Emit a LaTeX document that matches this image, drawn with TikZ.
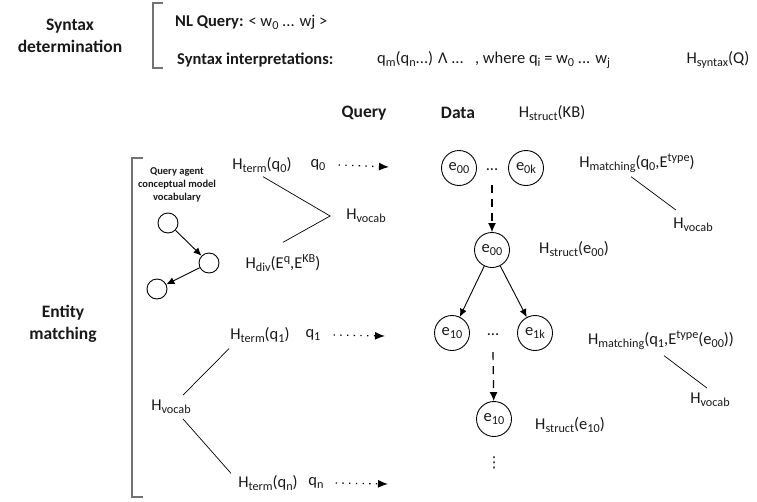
\documentclass[tikz,border=0pt]{standalone}
\usepackage{fontspec}
\setmainfont{Carlito}
\newfontfamily\symfont{DejaVu Sans}
\usepackage{graphicx}
\usetikzlibrary{arrows.meta}
\newcommand\lo[1]{\raisebox{-0.35ex}{\scalebox{0.74}{#1}}}
\newcommand\hi[1]{\raisebox{0.8ex}{\scalebox{0.74}{#1}}}

\begin{document}
\begin{tikzpicture}[x=1pt,y=-1pt,
	every node/.style={inner sep=0pt,text=black!90,font=\fontsize{16.5}{20}\selectfont},
	head/.style={align=center,font=\bfseries\fontsize{17.5}{22}\selectfont},
	small/.style={align=center,font=\bfseries\fontsize{10.5}{13}\selectfont},
	ent/.style={draw,circle,minimum size=35pt,line width=0.9pt},
	voc/.style={draw,circle,minimum size=20pt,line width=0.9pt},
	bracket/.style={black!55,line width=1.4pt},
	arr/.style={-{Latex[length=8pt,width=7pt]},line width=0.9pt},
	dotarr/.style={-{Latex[length=10pt,width=8pt]},line width=1.3pt,dash pattern=on 1.3pt off 5.4pt},
	dasharr/.style={-{Latex[length=9pt,width=8pt]},line width=1.2pt,dash pattern=on 8pt off 6pt},
	link/.style={line width=0.7pt}]
		%%%%% START %%%%%
		\useasboundingbox (0,0) rectangle (757,501);
		
		% syntax determination
		\node[head] (syntax) at (70,36) {Syntax\\determination};
		\draw[bracket] (163,3) -- (153,3) -- (153,68) -- (163,68);
		\node[anchor=west] (nlq) at (175,22) {\textbf{NL Query:} < w\lo{0} ... wj >};
		\node[anchor=west] (interp) at (177,60) {\textbf{Syntax interpretations:}};
		\node[anchor=west] (formula) at (377,60) {q\lo{m}(q\lo{n}...) Λ ...\ \ \ , where q\lo{i} = w\lo{0} ... w\lo{j}};
		\node (hsyntax) at (718,60) {H\lo{syntax}(Q)};
		
		% column heads
		\node[head] (query) at (364,113) {Query};
		\node[head] (data) at (458,113) {Data};
		\node (hkb) at (552,113) {H\lo{struct}(KB)};
		
		% entity matching
		\node[head] (entity) at (63,324) {Entity\\matching};
		\draw[bracket] (143,158) -- (132,158) -- (132,497) -- (143,497);
		
		\node[small] (agent) at (177,185) {Query agent\\conceptual model\\vocabulary};
		\node[voc] (c1) at (168,223) {};
		\node[voc] (c2) at (209,263) {};
		\node[voc] (c3) at (157,289) {};
		\draw[arr] (c1) -- (c2);
		\draw[arr] (c2) -- (c3);
		
		% query terms
		\node (hterm0) at (262,165) {H\lo{term}(q\lo{0})};
		\node (q0) at (318,165) {q\lo{0}};
		\coordinate (t0) at (389,167);
		\draw[dotarr] ([xshift=13pt]q0.east) -- (t0);
		\node (hvocab0) at (366,216) {H\lo{vocab}};
		\node (hdiv) at (283,263) {H\lo{div}(E\hi{q},E\hi{KB})};
		\draw[link] ([xshift=1pt,yshift=-4pt]hterm0.south) -- ([xshift=-16pt]hvocab0.west) -- ([yshift=12pt]hdiv.north);
		
		\node (hterm1) at (260,335) {H\lo{term}(q\lo{1})};
		\node (q1) at (313,335) {q\lo{1}};
		\coordinate (t1) at (385,336);
		\draw[dotarr] ([xshift=13pt]q1.east) -- (t1);
		
		\node (htermn) at (268,483) {H\lo{term}(q\lo{n})};
		\node (qn) at (316,483) {q\lo{n}};
		\coordinate (tn) at (388,484);
		\draw[dotarr] ([xshift=12pt]qn.east) -- (tn);
		
		\node (hvocabL) at (171,407) {H\lo{vocab}};
		\draw[link] ([xshift=12pt,yshift=5pt]hvocabL.north) -- ([xshift=-31pt,yshift=-6pt]hterm1.south);
		\draw[link] ([xshift=12pt,yshift=-5pt]hvocabL.south) -- ([xshift=-37pt,yshift=2pt]htermn.north);
		
		% data
		\node[ent] (e00a) at (459,168) {e\lo{00}};
		\node (dotsA) at (492,170) {...};
		\node[ent] (e0k) at (526,168) {e\lo{0k}};
		\node (hmatch0) at (637,163) {H\lo{matching}(q\lo{0},E\hi{type})};
		\node (hvocab1) at (693,225) {H\lo{vocab}};
		\draw[link] ([xshift=-6pt,yshift=-4pt]hmatch0.south) -- ([xshift=-17pt,yshift=8pt]hvocab1.north);
		
		\node[ent] (e00b) at (492,250) {e\lo{00}};
		\draw[dasharr] ([yshift=-14pt]dotsA.south) -- (e00b);
		\node (hstruct0) at (574,249) {H\lo{struct}(e\lo{00})};
		
		\node[ent] (e10a) at (452,333) {e\lo{10}};
		\node (dotsB) at (493,335) {...};
		\node[ent] (e1k) at (535,333) {e\lo{1k}};
		\draw[arr] (e00b) -- (e10a);
		\draw[arr] (e00b) -- (e1k);
		\node (hmatch1) at (661,340) {H\lo{matching}(q\lo{1},E\hi{type}(e\lo{00}))};
		\node (hvocab2) at (710,400) {H\lo{vocab}};
		\draw[link] ([xshift=3pt,yshift=-6pt]hmatch1.south) -- ([xshift=-3pt,yshift=5pt]hvocab2.north);
		
		\node[ent] (e10b) at (494,419) {e\lo{10}};
		\draw[dasharr] ([yshift=-16pt]dotsB.south) -- (e10b);
		\node (hstruct1) at (570,425) {H\lo{struct}(e\lo{10})};
		\node[font=\symfont\fontsize{15}{15}\selectfont] (vdots) at (494,463) {⋮};
		
		%%%%% END %%%%%
	\end{tikzpicture}
\end{document}
